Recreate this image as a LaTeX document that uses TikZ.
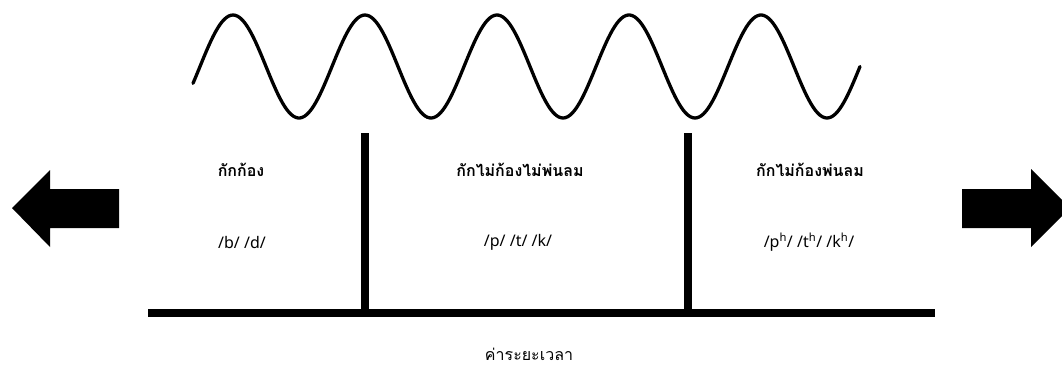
\documentclass[tikz,border=0pt]{standalone}
\usepackage{fontspec}
\setmainfont[Script=Thai]{Loma}
\newfontfamily\phonfont{Noto Sans}
\usetikzlibrary{positioning}

\begin{document}
\begin{tikzpicture}[x=1pt,y=-1pt,
  head/.style={font=\fontsize{16}{18}\selectfont\bfseries,inner sep=0pt},
  phon/.style={font=\fontsize{16}{18}\selectfont\phonfont,inner sep=0pt},
  axislabel/.style={font=\fontsize{16}{18}\selectfont,inner sep=0pt},
  bar/.style={line width=8pt,line cap=butt},
  wave/.style={line width=3.3pt,line cap=round,line join=round},
  bigarrow/.style={fill=black}]
  \useasboundingbox (0,0) rectangle (1062,367);
  \clip (0,0) rectangle (1062,367);
  % wave on top
  \draw[wave] plot[domain=193:860,samples=300]
    (\x,{66.5-51.5*sin((\x-233)/132*360+90)});
  % time axis and two cuts
  \coordinate (axl) at (148,313);
  \coordinate (axr) at (935,313);
  \coordinate (cuta) at (365,133);
  \coordinate (cutb) at (688,133);
  \draw[bar] (axl) -- (axr);
  \draw[bar] (cuta) -- (cuta |- axl);
  \draw[bar] (cutb) -- (cutb |- axl);
  % the three zones
  \node[head] (voiced)  at (241,170) {กักก้อง};
  \node[phon] (voicedp) at (242,242) {/b/ /d/};
  \node[head] (plain)   at (520,170) {กักไม่ก้องไม่พ่นลม};
  \node[phon] (plainp)  at (518,242) {/p/ /t/ /k/};
  \node[head] (asp)     at (810,170) {กักไม่ก้องพ่นลม};
  \node[phon] (aspp)    at (809,242) {/p\textsuperscript{h}/ /t\textsuperscript{h}/ /k\textsuperscript{h}/};
  \node[axislabel] (vot) at (529,354) {ค่าระยะเวลา};
  % arrows at both ends
  \fill[bigarrow] (12,208) -- (50,170) -- (50,189) -- (119,189)
    -- (119,228) -- (50,228) -- (50,247) -- cycle;
  \fill[bigarrow] (1070,208) -- (1031,169) -- (1031,189) -- (962,189)
    -- (962,228) -- (1031,228) -- (1031,247) -- cycle;
\end{tikzpicture}
\end{document}
